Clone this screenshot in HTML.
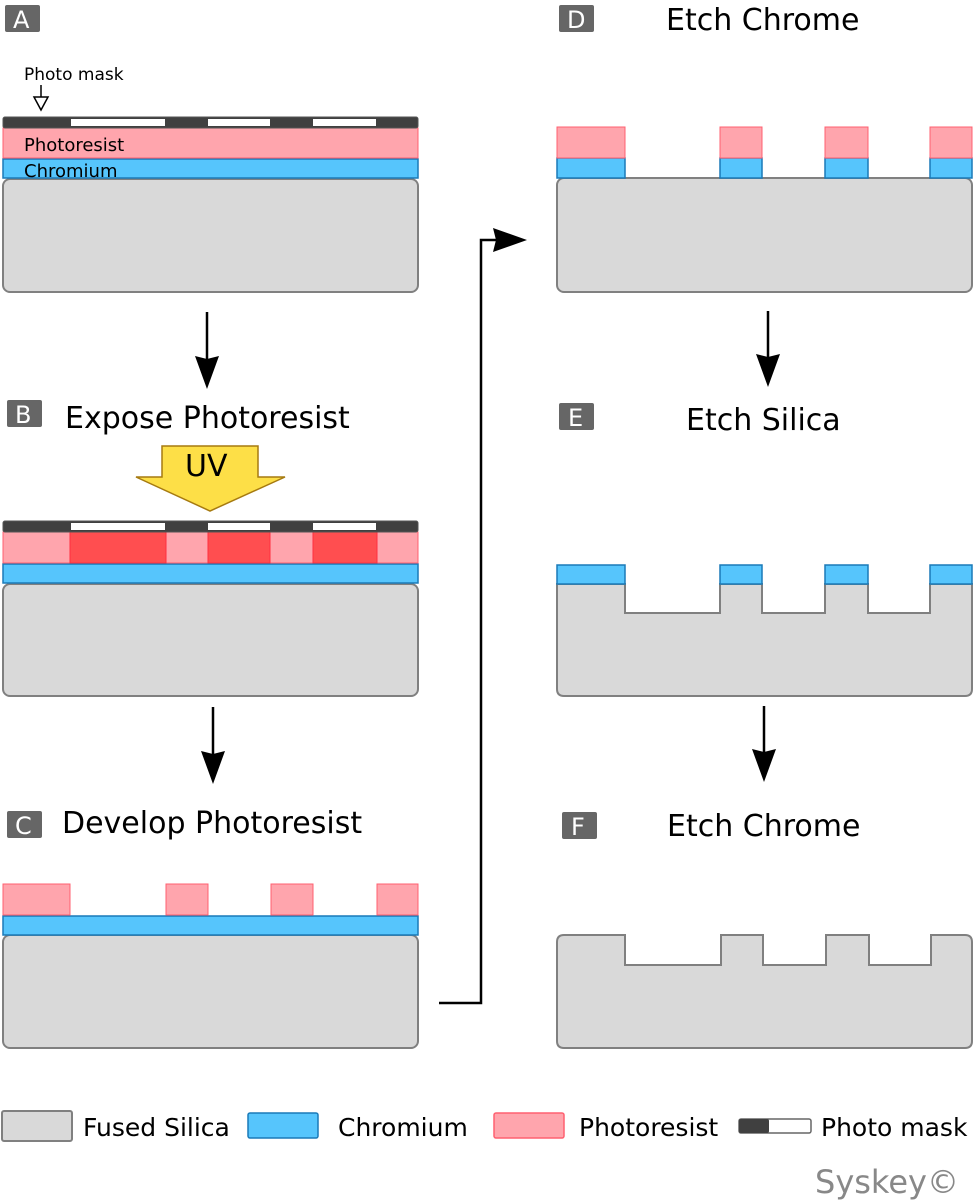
<!DOCTYPE html>
<html><head><meta charset="utf-8"><style>
html,body{margin:0;padding:0;background:#fff}
svg{display:block}
text{font-family:"DejaVu Sans","Liberation Sans",sans-serif}
</style></head><body>
<svg width="979" height="1200" viewBox="0 0 979 1200" xmlns="http://www.w3.org/2000/svg">
<defs>
<g id="mask">
<rect x="3" y="0" width="415" height="11" rx="2" fill="#404040" stroke="#555" stroke-width="1"/>
<rect x="71" y="2" width="94" height="7" fill="#fff"/>
<rect x="208" y="2" width="62" height="7" fill="#fff"/>
<rect x="313" y="2" width="63" height="7" fill="#fff"/>
</g>
</defs>
<g fill="#fff" font-size="24">
<rect x="5" y="5" width="35" height="27" rx="2" fill="#666"/><text x="13" y="28">A</text>
<rect x="7" y="400" width="35" height="27" rx="2" fill="#666"/><text x="15" y="423">B</text>
<rect x="7" y="811" width="35" height="27" rx="2" fill="#666"/><text x="15" y="834">C</text>
<rect x="559" y="5" width="35" height="27" rx="2" fill="#666"/><text x="567" y="28">D</text>
<rect x="559" y="403" width="35" height="27" rx="2" fill="#666"/><text x="568" y="426">E</text>
<rect x="562" y="812" width="35" height="27" rx="2" fill="#666"/><text x="571" y="835">F</text>
</g>
<g font-size="30" fill="#000">
<text x="65" y="428">Expose Photoresist</text>
<text x="62" y="833">Develop Photoresist</text>
<text x="666" y="30">Etch Chrome</text>
<text x="686" y="430">Etch Silica</text>
<text x="667" y="836">Etch Chrome</text>
</g>
<!-- Panel A -->
<text x="24" y="80" font-size="17">Photo mask</text>
<line x1="41" y1="85" x2="41" y2="97" stroke="#000" stroke-width="1.5"/>
<polygon points="34,97 48,97 41,110" fill="#fff" stroke="#000" stroke-width="1.5"/>
<rect x="3" y="179" width="415" height="113" rx="7" fill="#d9d9d9" stroke="#808080" stroke-width="2"/>
<rect x="3" y="159" width="415" height="19" fill="#56c5fc" stroke="#1a7ab8" stroke-width="1.5"/>
<rect x="3" y="128" width="415" height="30" fill="#ffa5ad" stroke="#ff6070" stroke-width="1"/>
<use href="#mask" y="117"/>
<text x="24" y="151" font-size="18">Photoresist</text>
<text x="24" y="177" font-size="18">Chromium</text>
<!-- Panel B -->
<polygon points="162,446 258,446 258,477 285,477 210,511 136,477 162,477" fill="#fddf47" stroke="#a67a10" stroke-width="1.5"/>
<text x="185" y="476" font-size="30">UV</text>
<rect x="3" y="584" width="415" height="112" rx="7" fill="#d9d9d9" stroke="#808080" stroke-width="2"/>
<rect x="3" y="564" width="415" height="19" fill="#56c5fc" stroke="#1a7ab8" stroke-width="1.5"/>
<rect x="3" y="532" width="415" height="31" fill="#ffa5ad" stroke="#ff6070" stroke-width="1"/>
<rect x="70" y="532" width="96" height="31" fill="#ff4e50" stroke="#ff3040" stroke-width="1"/>
<rect x="208" y="532" width="62" height="31" fill="#ff4e50" stroke="#ff3040" stroke-width="1"/>
<rect x="313" y="532" width="64" height="31" fill="#ff4e50" stroke="#ff3040" stroke-width="1"/>
<use href="#mask" y="521"/>
<!-- Panel C -->
<rect x="3" y="935" width="415" height="113" rx="7" fill="#d9d9d9" stroke="#808080" stroke-width="2"/>
<rect x="3" y="916" width="415" height="19" fill="#56c5fc" stroke="#1a7ab8" stroke-width="1.5"/>
<g fill="#ffa5ad" stroke="#ff6070" stroke-width="1">
<rect x="3" y="884" width="67" height="31"/><rect x="166" y="884" width="42" height="31"/>
<rect x="271" y="884" width="42" height="31"/><rect x="377" y="884" width="41" height="31"/>
</g>
<!-- Panel D -->
<rect x="557" y="178" width="415" height="114" rx="7" fill="#d9d9d9" stroke="#808080" stroke-width="2"/>
<g fill="#56c5fc" stroke="#1a7ab8" stroke-width="1.5">
<rect x="557" y="158" width="68" height="20"/><rect x="720" y="158" width="42" height="20"/>
<rect x="825" y="158" width="43" height="20"/><rect x="930" y="158" width="42" height="20"/>
</g>
<g fill="#ffa5ad" stroke="#ff6070" stroke-width="1">
<rect x="557" y="127" width="68" height="31"/><rect x="720" y="127" width="42" height="31"/>
<rect x="825" y="127" width="43" height="31"/><rect x="930" y="127" width="42" height="31"/>
</g>
<!-- Panel E -->
<path d="M557,584 H625 V613 H720 V584 H762 V613 H825 V584 H868 V613 H930 V584 H972 V689 Q972,696 965,696 H564 Q557,696 557,689 Z" fill="#d9d9d9" stroke="#808080" stroke-width="2"/>
<g fill="#56c5fc" stroke="#1a7ab8" stroke-width="1.5">
<rect x="557" y="565" width="68" height="19"/><rect x="720" y="565" width="42" height="19"/>
<rect x="825" y="565" width="43" height="19"/><rect x="930" y="565" width="42" height="19"/>
</g>
<!-- Panel F -->
<path d="M564,935 H625 V965 H721 V935 H763 V965 H826 V935 H869 V965 H931 V935 H965 Q972,935 972,942 V1041 Q972,1048 965,1048 H564 Q557,1048 557,1041 V942 Q557,935 564,935 Z" fill="#d9d9d9" stroke="#808080" stroke-width="2"/>
<!-- Arrows -->
<g stroke="#000" stroke-width="2.5" fill="none">
<line x1="207" y1="312" x2="207" y2="360"/>
<line x1="213" y1="707" x2="213" y2="755"/>
<line x1="768" y1="311" x2="768" y2="360"/>
<line x1="764" y1="706" x2="764" y2="755"/>
<polyline points="439,1003 481,1003 481,240 500,240"/>
</g>
<g fill="#000">
<polygon points="195,356 207,359 219,356 207,389"/>
<polygon points="201,751 213,754 225,751 213,784"/>
<polygon points="756,354 768,357 780,354 768,387"/>
<polygon points="752,749 764,752 776,749 764,782"/>
<polygon points="493,228 496,240 493,252 527,240"/>
</g>
<!-- Legend -->
<rect x="2" y="1111" width="70" height="30" rx="2" fill="#d9d9d9" stroke="#808080" stroke-width="2"/>
<text x="83" y="1136" font-size="25">Fused Silica</text>
<rect x="248" y="1113" width="70" height="25" rx="2" fill="#56c5fc" stroke="#1a7ab8" stroke-width="1.5"/>
<text x="338" y="1136" font-size="25">Chromium</text>
<rect x="494" y="1113" width="70" height="25" rx="2" fill="#ffa5ad" stroke="#ff6070" stroke-width="1.5"/>
<text x="579" y="1136" font-size="25">Photoresist</text>
<rect x="739" y="1119" width="72" height="14" rx="2" fill="#fff" stroke="#666" stroke-width="1.5"/>
<rect x="739" y="1119" width="30" height="14" rx="2" fill="#404040"/>
<text x="821" y="1136" font-size="25">Photo mask</text>
<text x="815" y="1193" font-size="32" fill="#888">Syskey©</text>
</svg>
</body></html>
